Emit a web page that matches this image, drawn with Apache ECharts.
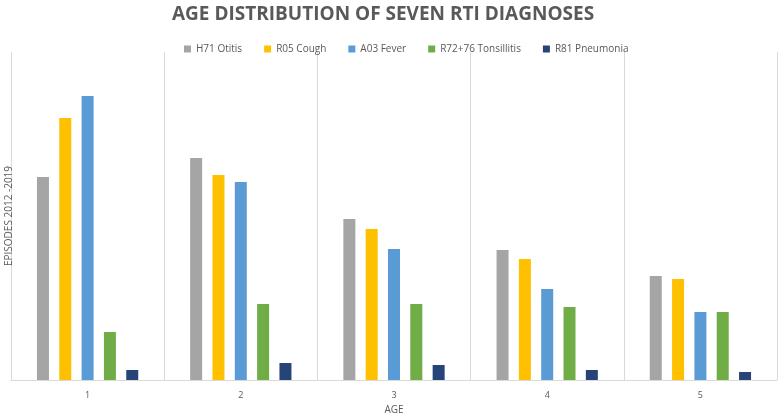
<!DOCTYPE html>
<html>
<head>
<meta charset="utf-8">
<script src="https://cdn.jsdelivr.net/npm/echarts@6/dist/echarts.min.js"></script>
<style>
  html, body { margin: 0; padding: 0; background: #fff; }
  #main { width: 778px; height: 413px; }
</style>
</head>
<body>
<div id="main"></div>
<script>
// data (no axis values shown, so units are relative)
var ages = ['1', '2', '3', '4', '5'];
var otitis = [203, 222, 161, 130, 104];
var cough = [262, 205, 151, 121, 101];
var fever = [284, 198, 131, 91, 68];
var tonsillitis = [48, 76, 76, 73, 68];
var pneumonia = [10, 17, 15, 10, 8];

var myChart = echarts.init(document.getElementById('main'));

function bar(name, data, color) {
  return {
    name: name,
    type: 'bar',
    data: data,
    barWidth: 12,
    barGap: '86%',
    itemStyle: { color: color }
  };
}

var option = {
  animation: false,
  textStyle: { fontFamily: 'Open Sans', color: '#595959' },
  title: {
    text: 'AGE DISTRIBUTION OF SEVEN RTI DIAGNOSES',
    left: 167,
    top: 0,
    textStyle: { fontSize: 19, fontWeight: 'bold', color: '#595959', fontFamily: 'Open Sans' }
  },
  legend: {
    top: 39,
    left: 179,
    itemWidth: 7,
    itemHeight: 7,
    itemGap: 22,
    icon: 'rect',
    textStyle: { fontSize: 10, color: '#595959' }
  },
  grid: { left: 11, right: 1, top: 52, bottom: 33, outerBoundsMode: 'none' },
  xAxis: {
    type: 'category',
    data: ages,
    name: 'AGE',
    nameLocation: 'middle',
    nameGap: 23,
    nameTextStyle: { fontSize: 10, color: '#595959' },
    axisLine: { lineStyle: { color: '#d9d9d9' } },
    axisTick: { show: false },
    axisLabel: { fontSize: 9, color: '#595959', margin: 11 },
    splitLine: { show: true, lineStyle: { color: '#d9d9d9' } }
  },
  yAxis: {
    type: 'value',
    min: 0,
    max: 328,
    name: 'EPISODES 2012 -2019',
    nameLocation: 'middle',
    nameGap: -3,
    nameTextStyle: { fontSize: 10, color: '#595959' },
    axisLabel: { show: false },
    axisLine: { show: false },
    axisTick: { show: false },
    splitLine: { show: false }
  },
  series: [
    bar('H71 Otitis', otitis, '#a5a5a5'),
    bar('R05 Cough', cough, '#ffc000'),
    bar('A03 Fever', fever, '#5b9bd5'),
    bar('R72+76 Tonsillitis', tonsillitis, '#70ad47'),
    bar('R81 Pneumonia', pneumonia, '#264478')
  ]
};

myChart.setOption(option);
</script>
</body>
</html>
